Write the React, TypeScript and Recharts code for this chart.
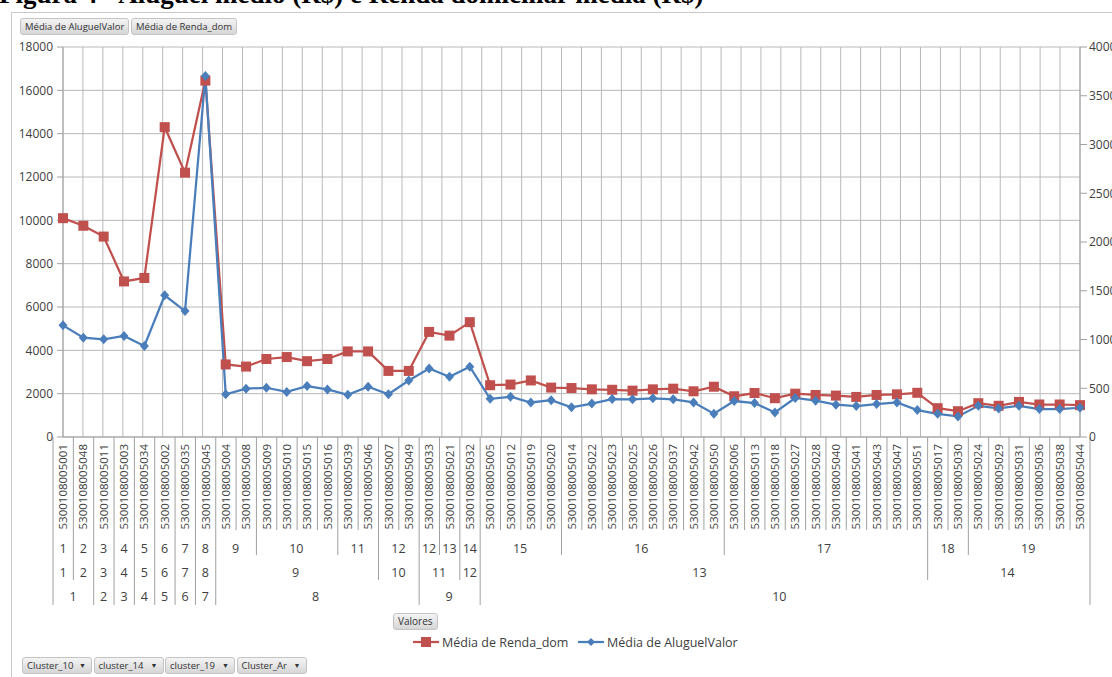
import { LineChart, Line, XAxis, YAxis, CartesianGrid } from 'recharts';

// setores censitários, na ordem da tabela dinâmica
const setores = [
  '5300108005001', '5300108005048', '5300108005011', '5300108005003', '5300108005034',
  '5300108005002', '5300108005035', '5300108005045', '5300108005004', '5300108005008',
  '5300108005009', '5300108005010', '5300108005015', '5300108005016', '5300108005039',
  '5300108005046', '5300108005007', '5300108005049', '5300108005033', '5300108005021',
  '5300108005032', '5300108005005', '5300108005012', '5300108005019', '5300108005020',
  '5300108005014', '5300108005022', '5300108005023', '5300108005025', '5300108005026',
  '5300108005037', '5300108005042', '5300108005050', '5300108005006', '5300108005013',
  '5300108005018', '5300108005027', '5300108005028', '5300108005040', '5300108005041',
  '5300108005043', '5300108005047', '5300108005051', '5300108005017', '5300108005030',
  '5300108005024', '5300108005029', '5300108005031', '5300108005036', '5300108005038',
  '5300108005044',
];

// cluster de cada setor (Cluster_10 > cluster_14 > cluster_19)
const cluster10 = [
  1, 1, 2, 3, 4, 5, 6, 7, 8, 8, 8, 8, 8, 8, 8, 8, 8, 8, 9, 9, 9,
  10, 10, 10, 10, 10, 10, 10, 10, 10, 10, 10, 10, 10, 10, 10, 10, 10, 10, 10,
  10, 10, 10, 10, 10, 10, 10, 10, 10, 10, 10,
];
const cluster14 = [
  1, 2, 3, 4, 5, 6, 7, 8, 9, 9, 9, 9, 9, 9, 9, 9, 10, 10, 11, 11, 12,
  13, 13, 13, 13, 13, 13, 13, 13, 13, 13, 13, 13, 13, 13, 13, 13, 13, 13, 13,
  13, 13, 13, 14, 14, 14, 14, 14, 14, 14, 14,
];
const cluster19 = [
  1, 2, 3, 4, 5, 6, 7, 8, 9, 9, 10, 10, 10, 10, 11, 11, 12, 12, 12, 13, 14,
  15, 15, 15, 15, 16, 16, 16, 16, 16, 16, 16, 16, 17, 17, 17, 17, 17, 17, 17,
  17, 17, 17, 18, 18, 19, 19, 19, 19, 19, 19,
];

// Média de Renda_dom (eixo esquerdo)
const rendaDom = [
  10100, 9750, 9250, 7180, 7340, 14300, 12200, 16450, 3350, 3250,
  3600, 3690, 3500, 3600, 3950, 3950, 3050, 3050, 4850, 4680,
  5300, 2390, 2420, 2610, 2280, 2260, 2200, 2180, 2140, 2200,
  2230, 2110, 2320, 1880, 2030, 1790, 2000, 1940, 1910, 1850,
  1940, 1970, 2040, 1330, 1190, 1560, 1440, 1620, 1500, 1500,
  1470,
];

// Média de AluguelValor (eixo direito)
const aluguelValor = [
  1145, 1019, 1002, 1036, 933, 1453, 1292, 3703, 438, 496,
  505, 462, 522, 488, 433, 515, 439, 580, 703, 618,
  721, 392, 413, 354, 378, 304, 343, 389, 386, 397,
  386, 355, 238, 369, 348, 252, 400, 372, 331, 317,
  338, 355, 276, 238, 211, 320, 293, 320, 286, 286,
  300,
];

const rendaTicks = [0, 2000, 4000, 6000, 8000, 10000, 12000, 14000, 16000, 18000];
const aluguelTicks = [0, 500, 1000, 1500, 2000, 2500, 3000, 3500, 4000];
const filtros = ['Cluster_10', 'cluster_14', 'cluster_19', 'Cluster_Ar'];

const data = setores.map((setor, i) => ({
  setor,
  renda: rendaDom[i],
  aluguel: aluguelValor[i],
}));

const RED = '#C0504D';
const BLUE = '#4A7EBB';
const GRID = '#b9b9b9';
const AXIS = '#a0a0a0';
const TEXT = '#404040';
const FONT = '"Open Sans", "Noto Sans", sans-serif';

const CHART_W = 1160;
const CHART_H = 677;
const MARGIN = { top: 47, right: 20, bottom: 70, left: 13 };
const LEFT_W = 50;
const RIGHT_W = 60;
const X_AXIS_H = 170;
const PLOT_W = CHART_W - MARGIN.left - MARGIN.right - LEFT_W - RIGHT_W;
const STEP = PLOT_W / setores.length;

// chaves hierárquicas: um grupo de nível inferior quebra quando o pai muda
const keyFor = (level: number, i: number) => {
  if (level === 2) return `${cluster10[i]}`;
  if (level === 1) return `${cluster10[i]}-${cluster14[i]}`;
  return `${cluster10[i]}-${cluster14[i]}-${cluster19[i]}`;
};
const levelLabel = (level: number, i: number) =>
  level === 0 ? cluster19[i] : level === 1 ? cluster14[i] : cluster10[i];

const ROW_Y = [111, 135, 159];
const SEP_DEPTH = [93, 118, 143, 168];

function sepDepth(i: number) {
  if (i === 0 || i === setores.length) return SEP_DEPTH[3];
  if (keyFor(2, i) !== keyFor(2, i - 1)) return SEP_DEPTH[3];
  if (keyFor(1, i) !== keyFor(1, i - 1)) return SEP_DEPTH[2];
  if (keyFor(0, i) !== keyFor(0, i - 1)) return SEP_DEPTH[1];
  return SEP_DEPTH[0];
}

function CategoryTick(props: any) {
  const { x, y, index, payload } = props;
  const i = index;
  const labels = [0, 1, 2].map((level) => {
    if (i > 0 && keyFor(level, i) === keyFor(level, i - 1)) return null;
    let n = 1;
    while (i + n < setores.length && keyFor(level, i + n) === keyFor(level, i)) n++;
    return (
      <text
        key={`g${level}`}
        x={x + ((n - 1) * STEP) / 2}
        y={y + ROW_Y[level]}
        textAnchor="middle"
        dominantBaseline="central"
        fill={TEXT}
        fontSize={12.5}
        fontFamily={FONT}
      >
        {levelLabel(level, i)}
      </text>
    );
  });
  return (
    <g>
      <text
        x={x}
        y={y + 7}
        transform={`rotate(-90, ${x}, ${y + 7})`}
        textAnchor="end"
        dy="0.36em"
        fill={TEXT}
        fontSize={11.5}
        fontFamily={FONT}
      >
        {payload.value}
      </text>
      <line x1={x - STEP / 2} x2={x - STEP / 2} y1={y} y2={y + sepDepth(i)} stroke={AXIS} />
      {i === setores.length - 1 && (
        <line x1={x + STEP / 2} x2={x + STEP / 2} y1={y} y2={y + sepDepth(setores.length)} stroke={AXIS} />
      )}
      {labels}
    </g>
  );
}

const SquareDot = (p: any) =>
  p.cx == null ? null : (
    <rect key={`s${p.index}`} x={p.cx - 5} y={p.cy - 5} width={10} height={10} fill={RED} />
  );

const DiamondDot = (p: any) =>
  p.cx == null ? null : (
    <polygon
      key={`d${p.index}`}
      points={`${p.cx},${p.cy - 5} ${p.cx + 4.5},${p.cy} ${p.cx},${p.cy + 5} ${p.cx - 4.5},${p.cy}`}
      fill={BLUE}
    />
  );

const buttonStyle: React.CSSProperties = {
  position: 'absolute',
  height: 17,
  boxSizing: 'border-box',
  background: 'linear-gradient(#f4f4f4, #d6d6d6)',
  border: '1px solid #c4c4c4',
  borderRadius: 3,
  fontFamily: FONT,
  fontSize: 9.5,
  color: '#333',
  lineHeight: '15px',
  padding: '0 4px',
  whiteSpace: 'nowrap',
};

function LegendItem({ color, shape, label, left }: { color: string; shape: 'square' | 'diamond'; label: string; left: number }) {
  return (
    <div style={{ position: 'absolute', left, top: 633, display: 'flex', alignItems: 'center', fontFamily: FONT, fontSize: 12.5, color: TEXT }}>
      <svg width={27} height={18}>
        <line x1={0} x2={26} y1={9} y2={9} stroke={color} strokeWidth={2.25} />
        {shape === 'square' ? (
          <rect x={8} y={4} width={10} height={10} fill={color} />
        ) : (
          <polygon points="13,5 17,9 13,13 9,9" fill={color} />
        )}
      </svg>
      <span style={{ marginLeft: 2 }}>{label}</span>
    </div>
  );
}

export default function App() {
  const verticalLines = ({ offset }: any) => {
    const left = offset?.left ?? MARGIN.left + LEFT_W;
    const width = offset?.width ?? PLOT_W;
    return Array.from({ length: setores.length + 1 }, (_, i) => left + (i * width) / setores.length);
  };

  return (
    <div style={{ position: 'fixed', left: 0, top: 0, width: 1112, height: 677, overflow: 'hidden', background: '#fff' }}>
      <div
        style={{
          position: 'absolute',
          left: -1,
          top: -21,
          fontFamily: '"Liberation Serif", serif',
          fontWeight: 'bold',
          fontSize: 27,
          lineHeight: '30px',
          whiteSpace: 'nowrap',
          color: '#000',
        }}
      >
        Figura 4 - Aluguel médio (R$) e Renda domiciliar média (R$)
      </div>
      <div style={{ position: 'absolute', left: 11, top: 12, width: 1200, height: 700, borderTop: '1px solid #c8c8c8', borderLeft: '1px solid #c8c8c8' }} />
      <div style={{ ...buttonStyle, left: 20, top: 18 }}>Média de AluguelValor</div>
      <div style={{ ...buttonStyle, left: 131, top: 18 }}>Média de Renda_dom</div>

      <div style={{ position: 'absolute', left: 0, top: 0 }}>
        <LineChart width={CHART_W} height={CHART_H} data={data} margin={MARGIN}>
          <CartesianGrid yAxisId="renda" stroke={GRID} verticalCoordinatesGenerator={verticalLines} />
          <XAxis
            dataKey="setor"
            type="category"
            interval={0}
            height={X_AXIS_H}
            tickLine={false}
            tickSize={0}
            tickMargin={0}
            stroke={AXIS}
            tick={(p: any) => <CategoryTick {...p} />}
          />
          <YAxis
            yAxisId="renda"
            width={LEFT_W}
            domain={[0, 18000]}
            ticks={rendaTicks}
            interval={0}
            tickSize={6}
            tickMargin={4}
            stroke={AXIS}
            tick={{ fill: TEXT, fontSize: 12, fontFamily: FONT }}
          />
          <YAxis
            yAxisId="aluguel"
            orientation="right"
            width={RIGHT_W}
            domain={[0, 4000]}
            ticks={aluguelTicks}
            interval={0}
            tickSize={7}
            tickMargin={2}
            stroke={AXIS}
            tick={{ fill: TEXT, fontSize: 12, fontFamily: FONT, textAnchor: 'start' }}
          />
          <Line
            yAxisId="renda"
            dataKey="renda"
            name="Média de Renda_dom"
            stroke={RED}
            strokeWidth={2.25}
            dot={SquareDot}
            activeDot={false}
            isAnimationActive={false}
          />
          <Line
            yAxisId="aluguel"
            dataKey="aluguel"
            name="Média de AluguelValor"
            stroke={BLUE}
            strokeWidth={2.25}
            dot={DiamondDot}
            activeDot={false}
            isAnimationActive={false}
          />
        </LineChart>
      </div>

      <div style={{ ...buttonStyle, left: 393, top: 613, fontSize: 10 }}>Valores</div>
      <LegendItem color={RED} shape="square" label="Média de Renda_dom" left={413} />
      <LegendItem color={BLUE} shape="diamond" label="Média de AluguelValor" left={578} />

      {filtros.map((f, i) => (
        <div key={f} style={{ ...buttonStyle, left: 22 + i * 71.5, top: 657, width: 70 }}>
          {f}
          <span style={{ position: 'absolute', right: 5, fontSize: 7 }}>▼</span>
        </div>
      ))}
    </div>
  );
}
